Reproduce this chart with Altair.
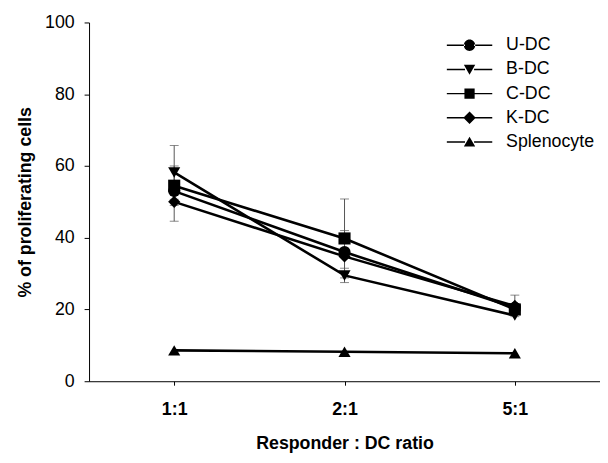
import altair as alt
import pandas as pd

ratios = ["1:1", "2:1", "5:1"]
series = ["U-DC", "B-DC", "C-DC", "K-DC", "Splenocyte"]
u_dc = [53.0, 36.0, 20.5]
b_dc = [58.2, 29.5, 18.3]
c_dc = [54.5, 39.8, 20.0]
k_dc = [50.0, 34.8, 21.0]
splenocyte = [8.6, 8.2, 7.8]
errors = {
    "U-DC": [0.0, 6.0, 0.0],
    "B-DC": [7.5, 2.0, 0.0],
    "C-DC": [5.5, 11.0, 0.0],
    "K-DC": [5.4, 0.0, 3.0],
    "Splenocyte": [0.0, 0.0, 0.0],
}
values = {"U-DC": u_dc, "B-DC": b_dc, "C-DC": c_dc, "K-DC": k_dc, "Splenocyte": splenocyte}

rows = []
for s in series:
    for i, r in enumerate(ratios):
        v = values[s][i]
        e = errors[s][i]
        rows.append({"series": s, "ratio": r, "value": v, "lo": v - e, "hi": v + e, "err": e})
df = pd.DataFrame(rows)

FONT = "Liberation Sans"
plot_shapes = ["circle", "triangle-down", "square", "diamond", "triangle-up"]
L = "M-4,-0.13H-0.8V0.13H-4ZM0.8,-0.13H4V0.13H0.8Z"
legend_paths = [
    L + "M-1,0A1,1,0,1,0,1,0A1,1,0,1,0,-1,0Z",
    L + "M-1,-0.8L1,-0.8L0,0.95Z",
    L + "M-0.9,-0.9H0.9V0.9H-0.9Z",
    L + "M0,-1.1L1.1,0L0,1.1L-1.1,0Z",
    L + "M-1,0.8L1,0.8L0,-0.95Z",
]

x_enc = alt.X(
    "ratio:O",
    sort=ratios,
    scale=alt.Scale(type="point", padding=0.5),
    axis=alt.Axis(
        title="Responder : DC ratio",
        labelAngle=0,
        labelFontWeight="bold",
        labelFontSize=18,
        labelPadding=16,
        tickSize=4,
        titleFontSize=18,
        titlePadding=16,
    ),
)
y_enc = alt.Y(
    "value:Q",
    scale=alt.Scale(domain=[0, 100]),
    axis=alt.Axis(
        title="% of proliferating cells",
        values=[0, 20, 40, 60, 80, 100],
        grid=False,
        labelFontSize=18,
        labelPadding=10,
        tickSize=5,
        titleFontSize=18,
        titlePadding=10,
    ),
)

base = alt.Chart(df)

err_df_filter = "datum.err > 0"
rules = base.transform_filter(err_df_filter).mark_rule(color="#555", strokeWidth=1).encode(
    x=x_enc, y=alt.Y("lo:Q", scale=alt.Scale(domain=[0, 100])), y2="hi:Q"
)
caps_hi = base.transform_filter(err_df_filter).mark_tick(color="#555", size=9, thickness=1).encode(
    x=x_enc, y=alt.Y("hi:Q")
)
caps_lo = base.transform_filter(err_df_filter).mark_tick(color="#555", size=9, thickness=1).encode(
    x=x_enc, y=alt.Y("lo:Q")
)

lines = base.mark_line(color="black", strokeWidth=2.6).encode(
    x=x_enc, y=y_enc, detail="series:N"
)
points = base.mark_point(filled=True, color="black", opacity=1, size=150).encode(
    x=x_enc,
    y=y_enc,
    shape=alt.Shape("series:N", scale=alt.Scale(domain=series, range=plot_shapes), legend=None),
)
legend_layer = base.transform_filter("datum.value < -1000").mark_point(
    filled=True, color="black", opacity=1, size=132
).encode(
    x=x_enc,
    y=y_enc,
    shape=alt.Shape(
        "series:N",
        scale=alt.Scale(domain=series, range=legend_paths),
        legend=alt.Legend(
            title=None,
            orient="none",
            legendX=376,
            legendY=14,
            labelFontSize=18,
            labelOffset=28,
            rowPadding=6.5,
            symbolSize=132,
            symbolFillColor="black",
            symbolStrokeColor="black",
            symbolStrokeWidth=0.3,
            symbolOpacity=1,
            labelColor="black",
            padding=0,
        ),
    ),
)

chart = (
    alt.layer(rules, caps_hi, caps_lo, lines, points, legend_layer)
    .resolve_scale(shape="independent")
    .properties(
        width=517,
        height=363,
        autosize=alt.AutoSizeParams(type="none"),
        padding={"left": 82, "top": 12, "right": 0, "bottom": 72},
    )
    .configure_view(stroke=None)
    .configure_axis(
        domainColor="black",
        tickColor="black",
        labelColor="black",
        titleColor="black",
        labelFont=FONT,
        titleFont=FONT,
        titleFontWeight="bold",
        domainWidth=1,
    )
    .configure_legend(labelFont=FONT)
)

chart.save("out.html", embed_options={"renderer": "svg", "actions": False})
